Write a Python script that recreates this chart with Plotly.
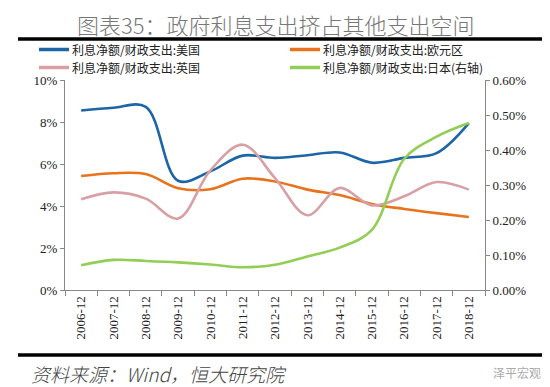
import plotly.graph_objects as go

categories = ["2006-12", "2007-12", "2008-12", "2009-12", "2010-12", "2011-12", "2012-12",
              "2013-12", "2014-12", "2015-12", "2016-12", "2017-12", "2018-12"]
us = [8.55, 8.68, 8.72, 5.20, 5.65, 6.40, 6.29, 6.42, 6.55, 6.06, 6.29, 6.52, 7.95]
eurozone = [5.43, 5.56, 5.52, 4.85, 4.80, 5.30, 5.17, 4.78, 4.52, 4.10, 3.86, 3.66, 3.48]
uk = [4.32, 4.65, 4.35, 3.40, 5.70, 6.92, 5.33, 3.56, 4.86, 4.03, 4.46, 5.14, 4.78]
japan = [0.071, 0.086, 0.083, 0.079, 0.073, 0.065, 0.072, 0.096, 0.121, 0.172, 0.375, 0.438, 0.477]

names = ["利息净额/财政支出:美国", "利息净额/财政支出:欧元区",
         "利息净额/财政支出:英国", "利息净额/财政支出:日本(右轴)"]
colors = ["#1c65a6", "#e8731c", "#d8a0a4", "#92cd55"]

left_ticks = [0, 2, 4, 6, 8, 10]
left_labels = ["0%", "2%", "4%", "6%", "8%", "10%"]
right_ticks = [0, 0.1, 0.2, 0.3, 0.4, 0.5, 0.6]
right_labels = ["0.00%", "0.10%", "0.20%", "0.30%", "0.40%", "0.50%", "0.60%"]

PL, PR, PT, PB = 57, 477, 72, 282
def px(x):
    return (x - PL) / (PR - PL)
def py(y):
    return (PB - y) / (PB - PT)

fig = go.Figure()
series = [(us, "y"), (eurozone, "y"), (uk, "y"), (japan, "y2")]
for (vals, ax), name, col in zip(series, names, colors):
    fig.add_trace(go.Scatter(x=categories, y=vals, name=name, yaxis=ax, showlegend=False,
                             mode="lines", line=dict(color=col, width=2.6, shape="spline", smoothing=1.0)))

tickfont = dict(family="Liberation Serif", size=13, color="#222")
fig.update_layout(
    width=550, height=387,
    margin=dict(l=PL, r=550 - PR, t=PT, b=387 - PB),
    paper_bgcolor="white", plot_bgcolor="white",
    showlegend=False,
    xaxis=dict(type="category", range=[-0.5, 12.5], tickson="boundaries", ticks="outside",
               ticklen=5, tickcolor="#888", showline=True, linecolor="#888", linewidth=1,
               tickangle=-90, tickfont=tickfont, showgrid=False),
    yaxis=dict(range=[0, 10], tickmode="array", tickvals=left_ticks, ticktext=left_labels,
               ticks="outside", ticklen=4,
               tickcolor="#888", showline=True, linecolor="#888", linewidth=1, showgrid=False,
               zeroline=False, tickfont=tickfont),
    yaxis2=dict(range=[0, 0.6], tickmode="array", tickvals=right_ticks, ticktext=right_labels,
                overlaying="y", side="right", ticks="outside", ticklen=4, tickcolor="#888",
                showline=True, linecolor="#888", linewidth=1, showgrid=False, zeroline=False,
                tickfont=tickfont),
)

# legend drawn as line samples + labels
legend_pos = [(31, 41.5), (282, 41.5), (31, 59.5), (282, 59.5)]
for (lx, ly), name, col in zip(legend_pos, names, colors):
    fig.add_shape(type="line", xref="paper", yref="paper", x0=px(lx), x1=px(lx + 30),
                  y0=py(ly), y1=py(ly), line=dict(color=col, width=3.5))
    fig.add_annotation(text=name, xref="paper", yref="paper", x=px(lx + 32), y=py(ly),
                       xanchor="left", yanchor="middle", showarrow=False, borderpad=0,
                       font=dict(family="Noto Sans CJK SC", size=12, color="#222"))

# title and decorations
fig.add_annotation(text="图表35：政府利息支出挤占其他支出空间", xref="paper", yref="paper",
                   x=px(268), y=py(16), xanchor="center", yanchor="middle", borderpad=0,
                   showarrow=False, font=dict(family="Noto Sans CJK SC", size=22, color="#777",
                                              weight=300))
fig.add_shape(type="line", xref="paper", yref="paper", x0=px(10), x1=px(535),
              y0=py(31), y1=py(31), line=dict(color="black", width=3.5))
fig.add_shape(type="line", xref="paper", yref="paper", x0=px(10), x1=px(535),
              y0=py(347), y1=py(347), line=dict(color="black", width=3.5))
fig.add_annotation(text="<i>资料来源：Wind，恒大研究院</i>", xref="paper", yref="paper",
                   x=px(22), y=py(365), xanchor="left", yanchor="middle", borderpad=0,
                   showarrow=False, font=dict(family="Noto Sans CJK SC", size=19, color="#444",
                                              weight=300))
fig.add_annotation(text="泽平宏观", xref="paper", yref="paper",
                   x=px(535), y=py(364), xanchor="right", yanchor="middle",
                   showarrow=False, font=dict(family="Noto Sans CJK SC", size=12, color="#aaa"))

fig.write_html("out.html")
